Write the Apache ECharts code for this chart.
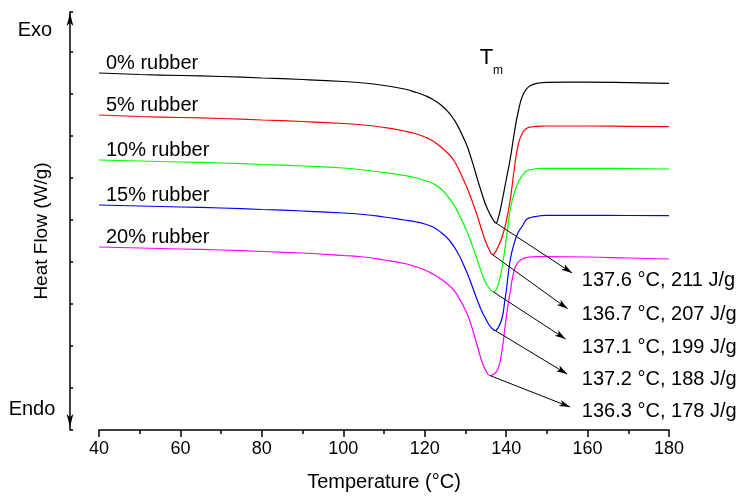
<!DOCTYPE html>
<html>
<head>
<meta charset="utf-8">
<script src="https://cdn.jsdelivr.net/npm/echarts@6/dist/echarts.min.js"></script>
<style>
html,body{margin:0;padding:0;background:#fff}
#chart{width:744px;height:499px}
</style>
</head>
<body>
<div id="chart"></div>
<script>
// DSC curves, temperature (°C) and heat flow (arbitrary, exo up)
const names = ['0% rubber', '5% rubber', '10% rubber', '15% rubber', '20% rubber']
const colors = ['#000000', '#ff0000', '#00ff00', '#0000ff', '#ff00ff']

const temp0 = [40,50,60,70,80,90,100,105,110,115,118,120,122,124,126,127,128,130,131,132,133,134,135,136,137,137.5,138,139,140,141,142,143,144,145,146,148,150,160,170,180]
const flow0 = [3.57,3.555,3.545,3.535,3.52,3.505,3.485,3.47,3.445,3.41,3.375,3.345,3.305,3.25,3.17,3.115,3.05,2.88,2.77,2.64,2.50,2.37,2.25,2.16,2.09,2.07,2.11,2.29,2.50,2.71,2.97,3.19,3.34,3.41,3.445,3.47,3.477,3.478,3.474,3.467]

const temp5 = [40,50,60,70,80,90,100,105,110,115,118,120,122,124,126,127,128,130,131,132,133,134,135,136,136.6,137,138,139,140,141,142,143,144,145,146,148,150,160,170,180]
const flow5 = [3.15,3.135,3.125,3.115,3.10,3.085,3.065,3.05,3.025,2.99,2.96,2.93,2.89,2.83,2.755,2.705,2.635,2.46,2.36,2.25,2.13,2.00,1.88,1.79,1.755,1.76,1.83,1.93,2.08,2.30,2.61,2.86,2.97,3.015,3.03,3.037,3.04,3.04,3.037,3.033]

const temp10 = [40,50,60,70,80,90,100,105,110,115,118,120,122,124,126,127,128,130,131,132,133,134,135,136,136.9,138,139,140,141,142,143,144,145,146,148,150,160,170,180]
const flow10 = [2.70,2.69,2.68,2.67,2.655,2.64,2.62,2.60,2.575,2.545,2.52,2.495,2.465,2.41,2.32,2.26,2.19,2.02,1.92,1.81,1.69,1.57,1.47,1.41,1.38,1.45,1.63,1.90,2.20,2.37,2.48,2.545,2.59,2.602,2.615,2.617,2.617,2.614,2.61]

const temp15 = [40,50,60,70,80,90,100,105,110,115,118,120,122,124,126,128,130,131,132,133,134,135,136,137,137.3,138,139,139.7,140,141,142,143,144,145,146,148,150,160,170,180]
const flow15 = [2.25,2.24,2.23,2.22,2.205,2.19,2.17,2.155,2.13,2.10,2.08,2.06,2.03,1.975,1.90,1.78,1.61,1.51,1.40,1.29,1.19,1.11,1.04,1.00,0.995,1.02,1.12,1.30,1.38,1.70,1.87,1.98,2.04,2.105,2.125,2.14,2.147,2.147,2.145,2.143]

const temp20 = [40,50,60,70,80,90,100,105,110,115,118,120,122,124,126,127,128,130,131,132,133,134,135,136,137,138,139,140,141,142,143,144,145,146,148,150,160,170,180]
const flow20 = [1.83,1.82,1.81,1.80,1.785,1.77,1.745,1.73,1.70,1.665,1.63,1.60,1.56,1.51,1.445,1.405,1.35,1.20,1.10,0.97,0.83,0.69,0.595,0.545,0.56,0.61,0.80,1.12,1.38,1.60,1.68,1.71,1.725,1.73,1.733,1.733,1.73,1.72,1.71]

// melting peak annotations
const peakTexts = ['137.6 °C, 211 J/g', '136.7 °C, 207 J/g', '137.1 °C, 199 J/g', '137.2 °C, 188 J/g', '136.3 °C, 178 J/g']
const peakTextX = [158.6, 158.6, 158.6, 158.6, 158.6]
const peakTextY = [1.50, 1.16, 0.83, 0.51, 0.19]
const arrowEndX = [156.2, 155.1, 154.6, 155.0, 155.7]
const arrowEndY = [1.57, 1.212, 0.91, 0.559, 0.23]

const temps = [temp0, temp5, temp10, temp15, temp20]
const flows = [flow0, flow5, flow10, flow15, flow20]

const font = 'Liberation Sans, Arial, sans-serif'

const series = names.map((name, i) => {
    const data = temps[i].map((t, j) => [t, flows[i][j]])
    // lowest point of the curve = start of the arrow
    let k = 0
    flows[i].forEach((v, j) => { if (v < flows[i][k]) k = j })
    return {
        type: 'line',
        name: name,
        data: data,
        showSymbol: false,
        smooth: 0.5,
        silent: true,
        lineStyle: { color: colors[i], width: 1.2 },
        itemStyle: { color: colors[i] },
        markPoint: {
            silent: true,
            symbol: 'circle',
            symbolSize: 0,
            label: { show: true, position: 'right', distance: 0, color: '#000', fontSize: 20, fontFamily: font },
            data: [
                { coord: [temps[i][0], flows[i][0]], label: { formatter: name, offset: [7, -10] } },
                { coord: [peakTextX[i], peakTextY[i]], label: { formatter: peakTexts[i] } }
            ]
        },
        markLine: {
            silent: true,
            symbol: ['none', 'arrow'],
            label: { show: false },
            lineStyle: { color: '#000', width: 1, type: 'solid' },
            data: [[
                { coord: [temps[i][k], flows[i][k]], symbol: 'none' },
                { coord: [arrowEndX[i], arrowEndY[i]], symbol: 'arrow', symbolSize: [5, 11] }
            ]]
        }
    }
})

const chart = echarts.init(document.getElementById('chart'))
chart.setOption({
    animation: false,
    backgroundColor: '#fff',
    textStyle: { fontFamily: font },
    grid: { left: 99, right: 75, top: 12, bottom: 69, outerBoundsMode: 'none' },
    xAxis: {
        type: 'value',
        min: 40,
        max: 180,
        interval: 20,
        name: 'Temperature (°C)',
        nameLocation: 'middle',
        nameGap: 42,
        nameTextStyle: { color: '#000', fontSize: 20, fontFamily: font },
        axisLine: { onZero: false, lineStyle: { color: '#000', width: 1.5 } },
        axisTick: { length: 7, lineStyle: { color: '#000', width: 1.5 } },
        minorTick: { show: true, splitNumber: 2, length: 4, lineStyle: { color: '#000', width: 1.5 } },
        axisLabel: { color: '#000', fontSize: 18, margin: 10, fontFamily: font },
        splitLine: { show: false },
        minorSplitLine: { show: false }
    },
    yAxis: {
        type: 'value',
        min: 0,
        max: 4.18,
        interval: 0.42,
        offset: 29,
        axisLine: {
            show: true,
            onZero: false,
            symbol: ['arrow', 'arrow'],
            symbolSize: [5, 13],
            symbolOffset: [3, -1],
            lineStyle: { color: '#000', width: 1.5 }
        },
        axisTick: { show: true, inside: true, length: 3, lineStyle: { color: '#000', width: 1.5 } },
        axisLabel: { show: false },
        splitLine: { show: false }
    },
    graphic: [
        { type: 'text', x: 35, y: 30, silent: true, style: { text: 'Exo', fontSize: 20, fontFamily: font, fill: '#000', align: 'center', verticalAlign: 'middle' } },
        { type: 'text', x: 32, y: 409, silent: true, style: { text: 'Endo', fontSize: 20, fontFamily: font, fill: '#000', align: 'center', verticalAlign: 'middle' } },
        { type: 'text', x: 42, y: 231, rotation: Math.PI / 2, silent: true, style: { text: 'Heat Flow (W/g)', fontSize: 19, fontFamily: font, fill: '#000', align: 'center', verticalAlign: 'middle' } },
        { type: 'text', x: 486.5, y: 58, silent: true, style: { text: 'T', fontSize: 22, fontFamily: font, fill: '#000', align: 'center', verticalAlign: 'middle' } },
        { type: 'text', x: 498, y: 70.5, silent: true, style: { text: 'm', fontSize: 12, fontFamily: font, fill: '#000', align: 'center', verticalAlign: 'middle' } }
    ],
    series: series
})
</script>
</body>
</html>
